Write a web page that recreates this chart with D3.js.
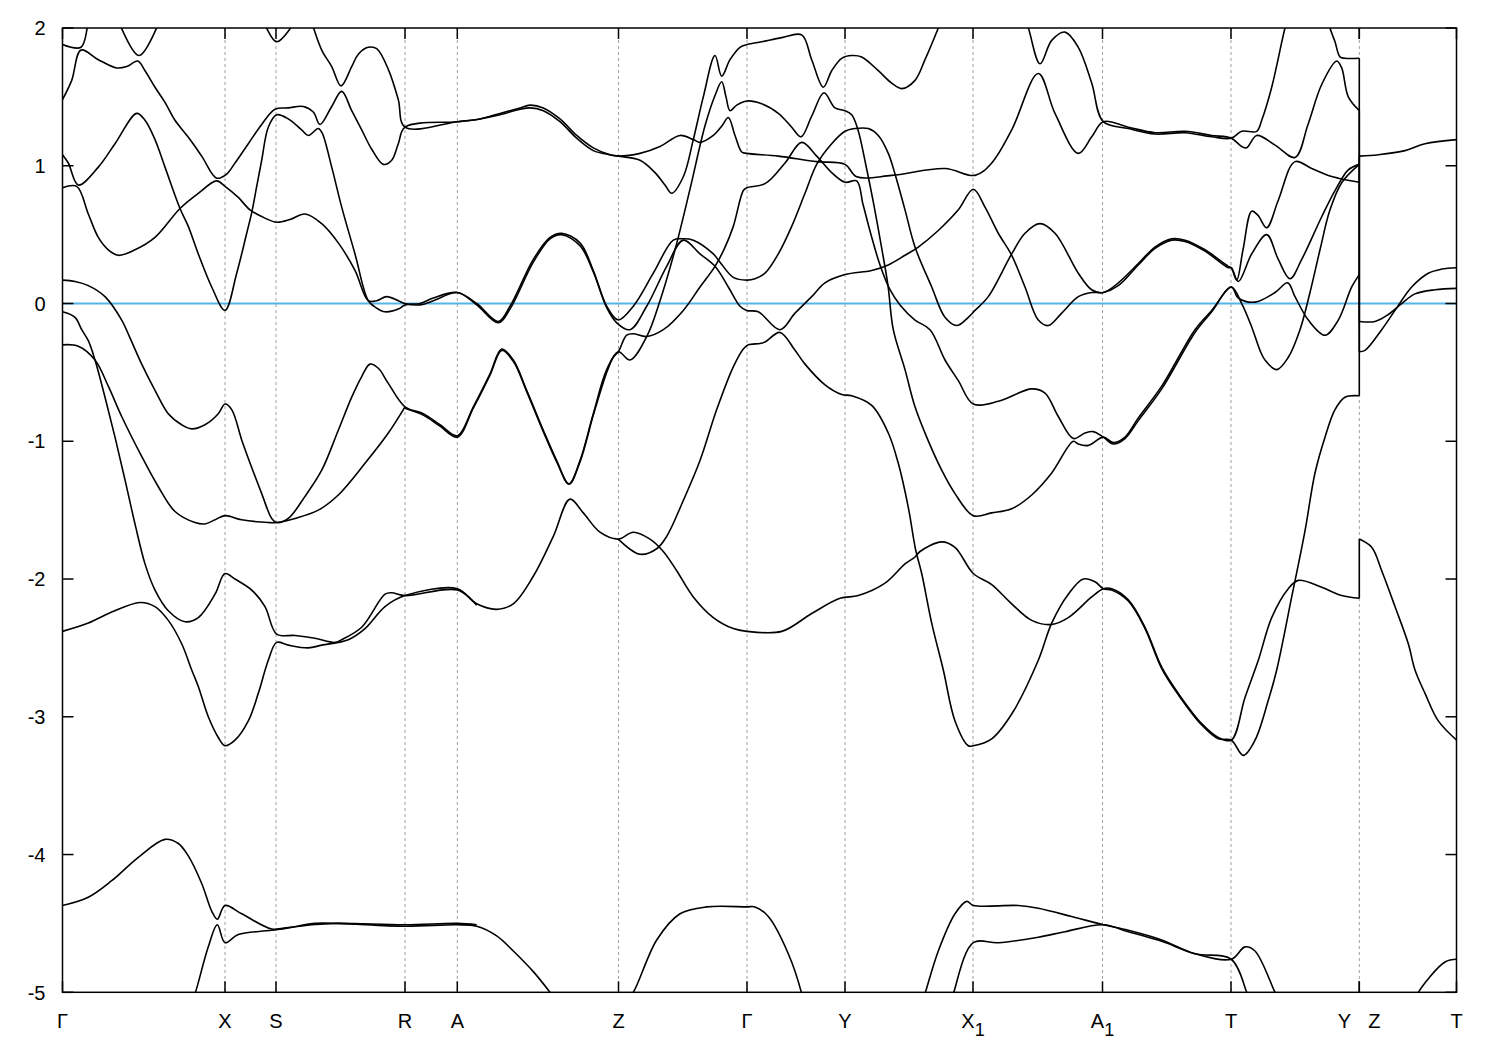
<!DOCTYPE html>
<html><head><meta charset="utf-8">
<script src="https://cdn.jsdelivr.net/npm/d3@7"></script>
<style>body{margin:0;background:#fff}</style>
</head><body>
<svg id="chart" width="1500" height="1050"></svg>
<script>
// k-path positions of high-symmetry points (path length units)
const kTickPos   = [0,162.5,213.5,342.5,394.8,556,684.5,782.5,910.5,1040,1168.5,1296.8,1296.8,1394];
const kTickLabel = ["Γ","X","S","R","A","Z","Γ","Y","X","A","T","Y","Z","T"];
const kTickSub   = ["","","","","","","","","1","1","","","",""];
const eTicks = [-5,-4,-3,-2,-1,0,1,2];
const fermiLevel = 0;

// bands: [k, E(eV)]
const band01 = [[0,1.88],[18.5,1.86],[25.5,2.06]];
const band02 = [[55.5,2.06],[76.5,1.80],[97.5,2.06]];
const band03 = [[0,1.48],[9.2,1.62],[18.5,1.84],[35.8,1.77],[54.2,1.71],[64.2,1.72],[75.2,1.76],[82.5,1.69],[92.5,1.57],[102.5,1.46],[112.5,1.33],[125.5,1.21],[139.2,1.07],[154.2,0.91],[164.2,0.94],[172.5,1.02],[185.8,1.16],[199.2,1.30],[212.5,1.41],[225.8,1.42],[240.8,1.43],[250.8,1.39],[257.5,1.30],[269.2,1.43],[279.2,1.54],[289.2,1.40],[299.2,1.26],[309.2,1.12],[320.8,1.01],[329.2,1.04],[335.8,1.16],[342.5,1.28],[394.8,1.32],[417.5,1.34],[437.5,1.38],[457.5,1.42],[467.5,1.44],[480.8,1.42],[497.5,1.34],[514.2,1.22],[530.8,1.13],[547.5,1.08],[555.8,1.07],[577.5,1.09],[597.5,1.14],[617.5,1.22],[630.8,1.19],[637.5,1.17],[650.8,1.22],[659.5,1.29],[665.8,1.35],[672.5,1.22],[679.2,1.10],[684.2,1.09],[715.8,1.07],[754.2,1.03],[782.5,1.01],[794.2,0.92],[829.2,0.93],[882.5,0.98],[912.5,0.93],[929.2,1.02],[949.2,1.26],[975.8,1.67],[992.5,1.38],[1015.8,1.09],[1029.2,1.21],[1040.8,1.32],[1065.8,1.28],[1092.5,1.24],[1122.5,1.25],[1149.2,1.22],[1168.8,1.20],[1179.2,1.14],[1184.2,1.13],[1194.2,1.22],[1212.5,1.15],[1232.5,1.06],[1245.5,1.30],[1259.2,1.59],[1274.2,1.76],[1279.2,1.71],[1285.8,1.50],[1296.8,1.40],[1296.8,-0.13],[1312.5,-0.13],[1325.8,-0.08],[1339.2,0.00],[1352.5,0.07],[1372.5,0.10],[1394.2,0.11]];
const band04 = [[248.5,2.06],[259.2,1.84],[269.2,1.72],[278.5,1.58],[289.2,1.72],[295.8,1.81],[305.8,1.86],[314.2,1.85],[325.8,1.70],[335.8,1.48],[342.5,1.28],[394.8,1.32],[417.5,1.34],[437.5,1.37],[457.5,1.41],[467.5,1.42],[480.8,1.40],[497.5,1.32],[514.2,1.20],[530.8,1.11],[547.5,1.08],[555.8,1.07],[577.5,1.04],[592.5,0.95],[602.5,0.86],[609.2,0.80],[620.8,0.92],[630.8,1.19],[640.8,1.50],[652.5,1.80],[659.2,1.65],[667.5,1.77],[677.5,1.86],[684.8,1.88],[699.2,1.90],[719.2,1.93],[739.2,1.95],[749.2,1.77],[760.8,1.57],[769.2,1.69],[779.2,1.78],[789.2,1.80],[799.2,1.79],[815.8,1.69],[829.2,1.60],[839.2,1.56],[852.5,1.62],[862.5,1.77],[875.8,2.00],[879.5,2.07]];
const band05 = [[200.5,2.06],[214.2,1.90],[233.5,2.06]];
const band06 = [[0,1.08],[5.8,1.02],[15.8,0.86],[35.8,0.99],[52.5,1.16],[74.2,1.38],[82.5,1.33],[92.5,1.19],[102.5,0.99],[117.5,0.69],[125.8,0.56],[135.8,0.36],[149.2,0.12],[162.5,-0.05],[174.2,0.22],[184.2,0.51],[189.2,0.66],[194.2,0.85],[199.2,1.04],[205.8,1.28],[214.2,1.37],[225.8,1.34],[239.2,1.26],[245.8,1.22],[255.8,1.27],[259.5,1.24],[269.2,0.99],[279.2,0.70],[292.5,0.36],[305.8,0.02],[313.5,-0.03],[322.5,-0.06],[335.8,-0.04],[342.5,-0.01],[357.5,0.00],[370.8,0.04],[394.8,0.08],[414.2,0.00],[435.8,-0.13],[447.5,-0.02],[470.8,0.32],[487.5,0.48],[499.2,0.51],[517.5,0.44],[530.8,0.24],[544.2,-0.02],[555.8,-0.12],[570.8,-0.02],[590.8,0.22],[610.8,0.46],[620.8,0.47],[630.8,0.46],[650.8,0.36],[657.5,0.30],[670.8,0.19],[684.2,0.17],[692.5,0.18],[702.5,0.22],[715.8,0.36],[729.2,0.56],[742.5,0.80],[754.2,1.01],[769.2,1.16],[782.5,1.25],[792.5,1.27],[805.8,1.27],[815.8,1.22],[825.8,1.09],[832.5,0.94],[842.5,0.68],[852.5,0.41],[869.2,0.12],[882.5,-0.10],[894.2,-0.16],[905.8,-0.10],[912.5,-0.05],[925.8,0.05],[949.2,0.36],[962.5,0.51],[977.5,0.58],[992.5,0.51],[1015.8,0.22],[1029.2,0.10],[1040.8,0.08],[1055.8,0.15],[1075.8,0.29],[1092.5,0.41],[1109.2,0.47],[1122.5,0.46],[1142.5,0.39],[1165.8,0.27],[1168.8,0.26],[1174.2,0.17],[1180.5,0.39],[1189.2,0.67],[1195.5,0.64],[1204.2,0.55],[1215.8,0.75],[1232.5,1.03],[1249.2,0.98],[1265.8,0.93],[1275.8,0.91],[1296.8,0.88]];
const band07 = [[0,0.84],[14.2,0.85],[25.8,0.65],[35.8,0.48],[45.8,0.39],[55.8,0.35],[72.5,0.39],[92.5,0.48],[117.5,0.69],[135.8,0.80],[154.2,0.89],[162.5,0.85],[175.8,0.77],[187.5,0.68],[202.5,0.62],[214.2,0.59],[227.5,0.61],[242.5,0.65],[259.2,0.58],[275.8,0.44],[292.5,0.24],[305.8,0.02],[314.2,0.02],[324.2,0.05],[335.8,0.02],[342.5,0.00],[357.5,-0.01],[370.8,0.02],[394.8,0.08],[414.2,-0.01],[435.8,-0.14],[447.5,-0.04],[470.8,0.30],[487.5,0.47],[499.2,0.50],[517.5,0.42],[530.8,0.23],[544.2,-0.03],[554.2,-0.14],[567.5,-0.19],[584.2,-0.02],[604.2,0.27],[620.8,0.46],[637.5,0.36],[652.5,0.27],[665.8,0.12],[677.5,-0.02],[684.2,-0.05],[695.8,-0.06],[717.5,-0.19],[732.5,-0.07],[749.2,0.05],[762.5,0.15],[782.5,0.21],[809.2,0.24],[825.8,0.28],[842.5,0.35],[855.8,0.41],[875.8,0.53],[895.8,0.68],[910.8,0.83],[922.5,0.70],[935.8,0.51],[949.2,0.35],[962.5,0.12],[975.8,-0.12],[985.8,-0.16],[999.2,-0.07],[1015.8,0.05],[1029.2,0.08],[1040.8,0.08],[1055.8,0.13],[1075.8,0.28],[1092.5,0.40],[1109.2,0.46],[1122.5,0.45],[1142.5,0.38],[1165.8,0.26],[1168.8,0.26],[1175.8,0.16],[1189.2,0.36],[1204.2,0.50],[1215.8,0.32],[1227.5,0.18],[1239.2,0.32],[1259.2,0.63],[1272.5,0.82],[1285.8,0.97],[1296.8,1.01]];
const band08 = [[0,0.17],[12.5,0.16],[25.8,0.13],[42.5,0.05],[59.2,-0.12],[67.5,-0.25],[79.2,-0.44],[92.5,-0.63],[105.8,-0.80],[119.2,-0.88],[129.2,-0.91],[142.5,-0.88],[155.8,-0.80],[162.5,-0.73],[169.2,-0.77],[179.2,-0.99],[189.2,-1.19],[199.2,-1.38],[209.2,-1.56],[214.2,-1.59],[225.8,-1.56],[242.5,-1.40],[259.2,-1.21],[275.8,-0.92],[289.2,-0.68],[299.2,-0.53],[307.5,-0.44],[315.8,-0.47],[325.8,-0.58],[342.5,-0.75],[360.8,-0.80],[377.5,-0.88],[394.8,-0.96],[410.8,-0.75],[427.5,-0.51],[439.2,-0.33],[450.8,-0.41],[464.2,-0.63],[480.8,-0.92],[494.2,-1.14],[506.5,-1.31],[517.5,-1.14],[530.8,-0.80],[544.2,-0.48],[555.8,-0.35],[567.5,-0.41],[584.2,-0.24],[597.5,0.02],[612.5,0.39],[627.5,0.83],[642.5,1.29],[652.5,1.51],[659.2,1.61],[663.5,1.50],[667.5,1.40],[674.2,1.44],[684.2,1.47],[699.2,1.45],[715.8,1.38],[729.2,1.28],[738.5,1.21],[749.2,1.36],[761.5,1.53],[772.5,1.42],[782.5,1.40],[789.2,1.37],[795.5,1.26],[803.5,1.00],[811.5,0.71],[819.5,0.39],[825.5,0.13],[830.8,-0.19],[842.5,-0.48],[852.5,-0.75],[864.2,-0.97],[879.2,-1.21],[892.5,-1.38],[910.8,-1.54],[929.2,-1.52],[949.2,-1.49],[969.2,-1.39],[989.2,-1.23],[1010.8,-1.00],[1015.8,-1.02],[1025.8,-1.03],[1040.8,-0.97],[1050.8,-1.01],[1062.5,-0.97],[1075.8,-0.83],[1099.2,-0.60],[1132.5,-0.19],[1149.2,-0.05],[1168.8,0.12],[1175.8,0.04],[1192.5,0.01],[1212.5,0.08],[1225.2,0.15],[1232.5,0.05],[1245.8,-0.12],[1262.5,-0.23],[1275.8,-0.12],[1289.2,0.12],[1296.8,0.21]];
const band09 = [[342.5,-0.76],[360.8,-0.81],[377.5,-0.89],[394.8,-0.97],[410.8,-0.76],[427.5,-0.52],[439.2,-0.34],[450.8,-0.42],[464.2,-0.64],[480.8,-0.93],[494.2,-1.15],[506.5,-1.31],[517.5,-1.15],[530.8,-0.81],[544.2,-0.50],[550.8,-0.39],[555.8,-0.35],[564.2,-0.23],[570.8,-0.22],[584.2,-0.24],[600.8,-0.19],[620.8,-0.05],[637.5,0.12],[652.5,0.27],[662,0.40],[670.8,0.56],[680.8,0.82],[684.2,0.84],[702.5,0.87],[722.5,1.02],[739.2,1.17],[754.2,1.07],[769.2,0.95],[782.5,0.88],[794.2,0.89],[800.5,0.72],[808.5,0.50],[817.5,0.28],[827.5,0.10],[837.5,-0.01],[852.5,-0.12],[867.5,-0.19],[882.5,-0.41],[895.8,-0.56],[910.8,-0.73],[935.8,-0.71],[969.2,-0.62],[982.5,-0.65],[995.8,-0.82],[1010.8,-0.98],[1022.5,-0.94],[1030.8,-0.93],[1040.8,-0.97],[1050.8,-1.02],[1062.5,-0.98],[1075.8,-0.85],[1099.2,-0.62],[1132.5,-0.21],[1149.2,-0.06],[1168.8,0.12],[1179.2,0.00],[1189.2,-0.17],[1197.5,-0.34],[1202.5,-0.41],[1214.2,-0.48],[1225.8,-0.39],[1237.5,-0.19],[1247.5,0.08],[1257.5,0.39],[1267.5,0.68],[1279.5,0.88],[1296.8,1.01]];
const band10 = [[0,-0.30],[15.8,-0.31],[32.5,-0.41],[45.8,-0.60],[59.2,-0.82],[79.2,-1.11],[95.8,-1.33],[112.5,-1.51],[132.5,-1.59],[142.5,-1.60],[152.5,-1.57],[162.5,-1.54],[179.2,-1.57],[205.8,-1.59],[214.2,-1.59],[232.5,-1.56],[255.8,-1.50],[275.8,-1.39],[302.5,-1.16],[325.8,-0.94],[342.5,-0.75]];
const band11 = [[0,-0.06],[12.5,-0.10],[19.2,-0.19],[25.8,-0.27],[32.5,-0.41],[42.5,-0.68],[52.5,-0.97],[62.5,-1.28],[72.5,-1.60],[82.5,-1.89],[92.5,-2.08],[105.8,-2.23],[122.5,-2.31],[135.8,-2.28],[152.5,-2.11],[162.5,-1.96],[172.5,-2.00],[189.2,-2.08],[202.5,-2.20],[214.2,-2.40],[232.5,-2.41],[252.5,-2.43],[272.5,-2.46],[279.2,-2.44],[299.2,-2.35],[322.5,-2.11],[329.2,-2.10],[342.5,-2.12],[394.8,-2.08],[414.2,-2.19]];
const band12 = [[0,-2.38],[25.8,-2.32],[49.2,-2.24],[77.5,-2.17],[92.5,-2.20],[105.8,-2.30],[119.2,-2.47],[129.2,-2.66],[135.8,-2.78],[145.8,-3.00],[155.8,-3.15],[162.5,-3.21],[172.5,-3.17],[185.8,-3.03],[195.8,-2.83],[205.8,-2.59],[214.2,-2.46],[225.8,-2.48],[245.8,-2.50],[259.2,-2.48],[285.8,-2.44],[302.5,-2.36],[322.5,-2.20],[342.5,-2.12],[394.8,-2.07],[414.2,-2.18],[434.2,-2.22],[450.8,-2.18],[470.8,-1.98],[490.8,-1.69],[507.5,-1.42],[520.8,-1.52],[537.5,-1.66],[555.8,-1.71],[570.8,-1.66],[587.5,-1.71],[600.8,-1.80],[614.2,-1.94],[630.8,-2.13],[650.8,-2.28],[670.8,-2.36],[684.2,-2.38],[719.2,-2.38],[749.2,-2.25],[777.5,-2.14],[795.8,-2.12],[822.5,-2.03],[842.5,-1.89],[852.5,-1.84],[857.5,-1.80],[879.2,-1.73],[892.5,-1.77],[910.8,-1.96],[929.2,-2.04],[949.2,-2.18],[969.2,-2.30],[989.2,-2.33],[1005.8,-2.28],[1029.2,-2.13],[1040.8,-2.07],[1049.2,-2.07],[1065.8,-2.15],[1082.5,-2.35],[1099.2,-2.64],[1115.8,-2.83],[1139.2,-3.05],[1155.8,-3.15],[1168.8,-3.17],[1182.5,-2.86],[1195.8,-2.59],[1209.2,-2.28],[1225.8,-2.07],[1235.8,-2.01],[1259.2,-2.06],[1279.2,-2.12],[1296.8,-2.14],[1296.8,-1.71],[1309.2,-1.77],[1319.2,-1.94],[1332.5,-2.20],[1345.8,-2.47],[1352.5,-2.66],[1362.5,-2.83],[1375.8,-3.03],[1394.2,-3.17]];
const band13 = [[555.8,-1.71],[577.5,-1.82],[594.2,-1.78],[604.2,-1.69],[620.8,-1.43],[637.5,-1.14],[654.2,-0.77],[670.8,-0.46],[680.8,-0.33],[685.8,-0.30],[697.5,-0.29],[702.5,-0.28],[717.5,-0.21],[732.5,-0.34],[742.5,-0.44],[762.5,-0.59],[779.2,-0.66],[789.2,-0.67],[809.2,-0.74],[825.8,-0.94],[835.8,-1.16],[845.8,-1.48],[853.2,-1.79],[859.2,-1.96],[869.2,-2.32],[880.8,-2.66],[892.5,-3.03],[905.8,-3.21],[910.8,-3.21],[929.2,-3.16],[949.2,-2.98],[975.8,-2.59],[989.2,-2.32],[1005.8,-2.11],[1020.8,-2.00],[1032.5,-2.02],[1040.8,-2.07],[1049.2,-2.08],[1065.8,-2.16],[1082.5,-2.36],[1099.2,-2.65],[1115.8,-2.84],[1139.2,-3.06],[1155.8,-3.16],[1168.8,-3.17],[1180.8,-3.28],[1192.5,-3.17],[1205.8,-2.88],[1214.2,-2.66],[1229.2,-2.13],[1242.5,-1.65],[1252.5,-1.23],[1262.5,-0.97],[1272.5,-0.77],[1282.5,-0.68],[1296.8,-0.67],[1296.8,1.07],[1315.8,1.08],[1342.5,1.11],[1362.5,1.16],[1394.2,1.19]];
const band15 = [[961.5,2.07],[965.8,2.00],[977.5,1.74],[989.2,1.91],[1002.5,1.97],[1015.8,1.86],[1029.2,1.60],[1040.8,1.32],[1065.8,1.27],[1092.5,1.23],[1122.5,1.24],[1149.2,1.21],[1168.8,1.20],[1179.2,1.25],[1194.2,1.25],[1199.2,1.33],[1209.2,1.57],[1222.5,2.00],[1225.5,2.07]];
const band16 = [[1265.5,2.07],[1267.5,2.00],[1272.5,1.90],[1277.5,1.79],[1282.5,1.78],[1296.8,1.78],[1296.8,-0.35],[1302.5,-0.34],[1319.2,-0.19],[1332.5,-0.05],[1349.2,0.12],[1365.8,0.22],[1379.2,0.25],[1394.2,0.26]];
const band17 = [[0,-4.37],[25.8,-4.31],[49.2,-4.19],[75.8,-4.02],[102.5,-3.89],[115.8,-3.92],[125.8,-4.01],[139.2,-4.21],[149.2,-4.41],[154.8,-4.47],[162.5,-4.37],[179.2,-4.43],[209.2,-4.54],[225.8,-4.53],[252.5,-4.50],[275.8,-4.50],[342.5,-4.52],[394.8,-4.51],[414.2,-4.52],[434.2,-4.59],[450.8,-4.70],[470.8,-4.85],[487.5,-5.00],[492.5,-5.05]];
const band18 = [[129.5,-5.06],[132.5,-5.01],[145.8,-4.67],[154.8,-4.51],[162.5,-4.64],[175.8,-4.58],[209.2,-4.55],[249.2,-4.51],[275.8,-4.50],[342.5,-4.51],[394.8,-4.50],[414.2,-4.51]];
const band19 = [[565.5,-5.04],[570.8,-5.00],[594.2,-4.62],[617.5,-4.43],[644.2,-4.38],[684.2,-4.38],[692.5,-4.38],[705.8,-4.45],[725.8,-4.72],[739.2,-5.01],[740.5,-5.06]];
const band20 = [[858.5,-5.10],[862.5,-5.01],[875.8,-4.70],[892.5,-4.43],[904.2,-4.34],[910.8,-4.37],[955.8,-4.37],[975.8,-4.39],[1009.2,-4.45],[1040.8,-4.51],[1065.8,-4.55],[1099.2,-4.62],[1132.5,-4.72],[1168.8,-4.76],[1182.5,-4.67],[1192.5,-4.70],[1212.5,-5.00],[1215.5,-5.04]];
const band21 = [[887.5,-5.08],[890.8,-5.01],[910.8,-4.64],[935.8,-4.64],[975.8,-4.60],[1002.5,-4.56],[1040.8,-4.51],[1065.8,-4.56],[1099.2,-4.63],[1132.5,-4.72],[1168.8,-4.76],[1184.2,-5.00],[1187.5,-5.06]];
const band22 = [[1352.5,-5.06],[1355.8,-5.00],[1382.5,-4.78],[1394.2,-4.76]];

const bands = [band01,band02,band03,band04,band05,band06,band07,band08,band09,band10,band11,band12,band13,band15,band16,band17,band18,band19,band20,band21,band22];

const svg = d3.select("#chart");
const W = 1500, H = 1050;
const m = {left:62.5, right:1456.5, top:28, bottom:992.3};
svg.append("rect").attr("width",W).attr("height",H).attr("fill","#fff");

const x = d3.scaleLinear().domain([0,1394]).range([m.left,m.right]);
const y = d3.scaleLinear().domain([-5,2]).range([m.bottom,m.top]);

svg.append("clipPath").attr("id","clip").append("rect")
  .attr("x",m.left).attr("y",m.top).attr("width",m.right-m.left).attr("height",m.bottom-m.top);

// dashed verticals at interior k-points
const interior = kTickPos.filter((d,i)=> d>0 && d<1394 && kTickPos.indexOf(d)===i);
svg.append("g").selectAll("line").data(interior).join("line")
  .attr("x1",d=>x(d)).attr("x2",d=>x(d)).attr("y1",m.top).attr("y2",m.bottom)
  .attr("stroke","#a0a0a0").attr("stroke-width",1).attr("stroke-dasharray","3,3");

// Fermi level
svg.append("line").attr("x1",m.left).attr("x2",m.right)
  .attr("y1",y(fermiLevel)).attr("y2",y(fermiLevel))
  .attr("stroke","#56b4e9").attr("stroke-width",2);

// split each band at discontinuities (same k twice) -> smooth pieces + straight jumps
const pieces = [], jumps = [];
bands.forEach(b=>{
  let cur = [b[0]];
  for (let i=1;i<b.length;i++){
    if (b[i][0]===b[i-1][0]) { pieces.push(cur); jumps.push([b[i-1],b[i]]); cur=[b[i]]; }
    else cur.push(b[i]);
  }
  pieces.push(cur);
});

const line = d3.line().x(d=>x(d[0])).y(d=>y(d[1])).curve(d3.curveCatmullRom.alpha(0.5));
const straight = d3.line().x(d=>x(d[0])).y(d=>y(d[1]));
const gb = svg.append("g").attr("clip-path","url(#clip)");
gb.selectAll("path.b").data(pieces).join("path").attr("class","b")
  .attr("d",line).attr("fill","none").attr("stroke","#000").attr("stroke-width",1.6)
  .attr("stroke-linejoin","round");
gb.selectAll("path.j").data(jumps).join("path").attr("class","j")
  .attr("d",straight).attr("fill","none").attr("stroke","#000").attr("stroke-width",1.6);

// frame
svg.append("rect").attr("x",m.left).attr("y",m.top).attr("width",m.right-m.left).attr("height",m.bottom-m.top)
  .attr("fill","none").attr("stroke","#000").attr("stroke-width",1.5);

// y ticks (inward, both sides)
const tl = 11;
const yt = svg.append("g");
eTicks.forEach(t=>{
  yt.append("line").attr("x1",m.left).attr("x2",m.left+tl).attr("y1",y(t)).attr("y2",y(t)).attr("stroke","#000").attr("stroke-width",1.5);
  yt.append("line").attr("x1",m.right).attr("x2",m.right-tl).attr("y1",y(t)).attr("y2",y(t)).attr("stroke","#000").attr("stroke-width",1.5);
  yt.append("text").attr("x",m.left-17).attr("y",y(t)).attr("dy","0.36em")
    .attr("text-anchor","end").attr("font-family","Liberation Sans, Arial, sans-serif").attr("font-size",20).text(String(t));
});

// x ticks (inward top & bottom) and labels
const xt = svg.append("g");
kTickPos.forEach((k,i)=>{
  xt.append("line").attr("x1",x(k)).attr("x2",x(k)).attr("y1",m.bottom).attr("y2",m.bottom-tl).attr("stroke","#000").attr("stroke-width",1.5);
  xt.append("line").attr("x1",x(k)).attr("x2",x(k)).attr("y1",m.top).attr("y2",m.top+tl).attr("stroke","#000").attr("stroke-width",1.5);
  const dup = kTickPos.filter(v=>v===k).length>1;
  const first = kTickPos.indexOf(k)===i;
  const cx = x(k) + (dup ? (first ? -15 : 15) : 0);
  const t = xt.append("text").attr("x",cx).attr("y",1028)
    .attr("text-anchor","middle").attr("font-family","Liberation Sans, Arial, sans-serif").attr("font-size",20);
  t.append("tspan").text(kTickLabel[i]);
  if (kTickSub[i]) t.append("tspan").attr("dy",8).attr("font-size",18).text(kTickSub[i]);
});
</script>
</body></html>
